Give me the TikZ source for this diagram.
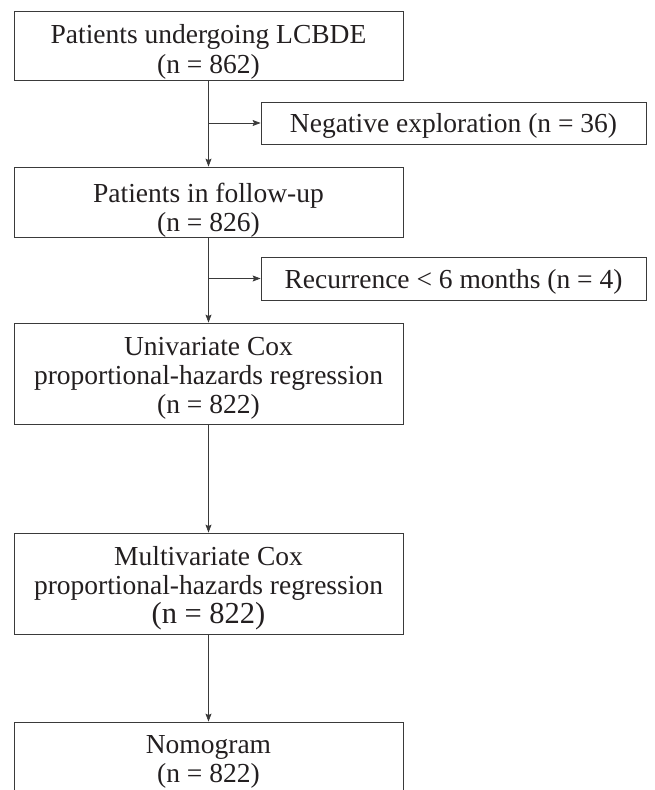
\documentclass[tikz,border=0pt]{standalone}
\usepackage{fontspec}
\setmainfont{Liberation Serif}
\usetikzlibrary{arrows.meta}
\definecolor{linec}{HTML}{3A3A3A}
\definecolor{textc}{HTML}{231F20}
\tikzset{
  mainbox/.style={draw=linec, line width=0.8pt, minimum width=389pt, inner sep=0pt},
  sidebox/.style={draw=linec, line width=0.8pt, minimum width=385pt, inner sep=0pt},
  txt/.style={anchor=base, inner sep=0pt, text=textc, font=\fontsize{27.5}{29}\selectfont},
  bigtxt/.style={txt, font=\fontsize{30.5}{31}\selectfont},
  arr/.style={draw=linec, line width=0.8pt, -{Stealth[length=8pt,width=6pt,inset=1.5pt]}}
}
\begin{document}
\begin{tikzpicture}
\useasboundingbox (0pt,0pt) rectangle (654pt,-790pt);
\begin{scope}[x=1pt,y=-1pt]
% boxes
\node[mainbox, minimum height=69pt] (b1) at (208.5,45.5) {};
\node[sidebox, minimum height=42pt] (n1) at (453.5,123) {};
\node[mainbox, minimum height=70pt] (b2) at (208.5,202) {};
\node[sidebox, minimum height=43pt] (n2) at (453.5,278.5) {};
\node[mainbox, minimum height=101pt] (b3) at (208.5,373.5) {};
\node[mainbox, minimum height=101pt] (b4) at (208.5,583.5) {};
\node[mainbox, minimum height=101pt] (b5) at (208.5,772.5) {};
% texts
\node[txt] (b1a) at (208.5,43.5) {Patients undergoing LCBDE};
\node[txt] (b1b) at (208.5,73) {(n = 862)};
\node[txt] (n1a) at (453.5,132) {Negative exploration (n = 36)};
\node[txt] (b2a) at (208.5,202) {Patients in follow-up};
\node[txt] (b2b) at (208.5,231) {(n = 826)};
\node[txt] (n2a) at (453.5,288) {Recurrence < 6 months (n = 4)};
\node[txt] (b3a) at (208.5,355) {Univariate Cox};
\node[txt] (b3b) at (208.5,384) {proportional-hazards regression};
\node[txt] (b3c) at (208.5,413) {(n = 822)};
\node[txt] (b4a) at (208.5,565) {Multivariate Cox};
\node[txt] (b4b) at (208.5,594) {proportional-hazards regression};
\node[bigtxt] (b4c) at (208.5,623) {(n = 822)};
\node[txt] (b5a) at (208.5,753) {Nomogram};
\node[txt] (b5b) at (208.5,782) {(n = 822)};
\end{scope}
% connectors
\draw[arr] (b1.south) -- (b2.north);
\draw[arr] (b1.south |- n1.west) -- (n1.west);
\draw[arr] (b2.south) -- (b3.north);
\draw[arr] (b2.south |- n2.west) -- (n2.west);
\draw[arr] (b3.south) -- (b4.north);
\draw[arr] (b4.south) -- (b5.north);
\end{tikzpicture}
\end{document}
